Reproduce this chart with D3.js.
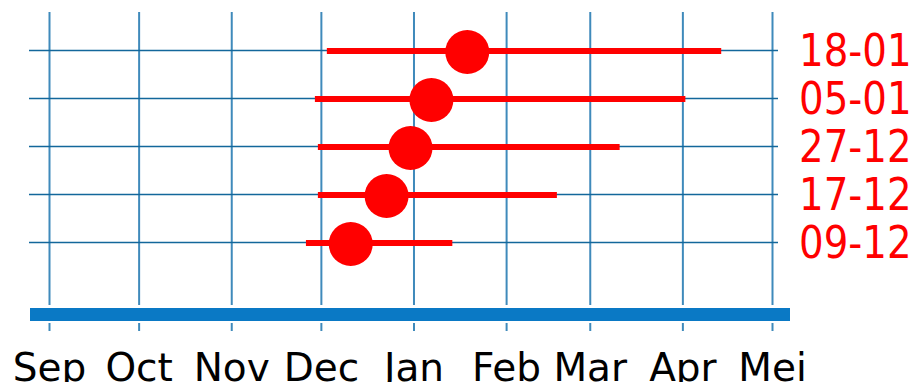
<!DOCTYPE html>
<html>
<head>
<meta charset="utf-8">
<script src="https://d3js.org/d3.v7.min.js"></script>
<style>
  body { margin: 0; background: #fff; }
  svg { display: block; }
  svg text { font-family: "DejaVu Sans", sans-serif; }
</style>
</head>
<body>
<svg id="chart" width="920" height="382"></svg>
<script>
// categories (top to bottom) and their ranges
var categories = ["18-01", "05-01", "27-12", "17-12", "09-12"];
var startDates = ["2021-12-03", "2021-11-29", "2021-11-30", "2021-11-30", "2021-11-26"];
var endDates   = ["2022-04-14", "2022-04-02", "2022-03-11", "2022-02-18", "2022-01-14"];
var midDates   = ["2022-01-19", "2022-01-07", "2021-12-31", "2021-12-23", "2021-12-11"];

// month ticks
var monthTicks = ["2021-09-01", "2021-10-01", "2021-11-01", "2021-12-01", "2022-01-01",
                  "2022-02-01", "2022-03-01", "2022-04-01", "2022-05-01"];
var monthLabels = ["Sep", "Oct", "Nov", "Dec", "Jan", "Feb", "Mar", "Apr", "Mei"];

var parse = d3.timeParse("%Y-%m-%d");
var rows = categories.map(function(c, i) {
  return { cat: c, start: parse(startDates[i]), end: parse(endDates[i]), mid: parse(midDates[i]) };
});
var ticks = monthTicks.map(parse);

var svg = d3.select("#chart");
var gridTop = 12, gridBottom = 305;
var lineLeft = 29, lineRight = 778;

var x = d3.scaleTime().domain([ticks[0], ticks[ticks.length - 1]]).range([49, 772]);
var y = d3.scalePoint().domain(categories).range([50, 242]);

// squeeze DejaVu a bit so it reads like the narrower original face
function condense(sel, k) {
  sel.each(function() {
    var w = this.getComputedTextLength();
    d3.select(this).attr("textLength", w * k).attr("lengthAdjust", "spacingAndGlyphs");
  });
}

// vertical gridlines
svg.append("g")
  .attr("transform", "translate(0," + gridBottom + ")")
  .call(d3.axisBottom(x).tickValues(ticks).tickSize(-(gridBottom - gridTop)).tickFormat(""))
  .call(function(g) {
    g.select(".domain").remove();
    g.selectAll(".tick line").attr("stroke", "#3f8abb").attr("stroke-width", 2);
  });

// horizontal gridlines
svg.append("g")
  .attr("transform", "translate(" + lineLeft + ",0)")
  .call(d3.axisLeft(y).tickSize(-(lineRight - lineLeft)).tickFormat(""))
  .call(function(g) {
    g.select(".domain").remove();
    g.selectAll(".tick line").attr("stroke", "#13679b").attr("stroke-width", 1.5);
  });

// thick baseline
svg.append("rect")
  .attr("x", 30).attr("y", 308)
  .attr("width", 760).attr("height", 13)
  .attr("fill", "#0a79c5");

// month axis below
svg.append("g")
  .attr("transform", "translate(0,323)")
  .call(d3.axisBottom(x).tickValues(ticks).tickSize(8)
    .tickFormat(function(d, i) { return monthLabels[i]; }))
  .call(function(g) {
    g.attr("font-family", null);
    g.select(".domain").remove();
    g.selectAll(".tick line").attr("stroke", "#3f8abb").attr("stroke-width", 2);
    g.selectAll(".tick text")
      .attr("y", 58).attr("dy", 0)
      .attr("fill", "#000")
      .style("font-size", "39px");
  });

// range bars
svg.append("g").selectAll("line")
  .data(rows).enter().append("line")
  .attr("x1", function(d) { return x(d.start); })
  .attr("x2", function(d) { return x(d.end); })
  .attr("y1", function(d) { return y(d.cat) + 1; })
  .attr("y2", function(d) { return y(d.cat) + 1; })
  .attr("stroke", "#ff0000")
  .attr("stroke-width", 6);

// dots
svg.append("g").selectAll("circle")
  .data(rows).enter().append("circle")
  .attr("cx", function(d) { return x(d.mid); })
  .attr("cy", function(d) { return y(d.cat) + 2; })
  .attr("r", 22)
  .attr("fill", "#ff0000");

// category labels on the right
svg.append("g")
  .attr("transform", "translate(" + lineRight + ",0)")
  .call(d3.axisRight(y).tickSize(0).tickPadding(21))
  .call(function(g) {
    g.attr("font-family", null);
    g.select(".domain").remove();
    g.selectAll(".tick text")
      .attr("dy", "0.36em")
      .attr("fill", "#ff0000")
      .style("font-size", "44px")
      .call(condense, 0.88);
  });
</script>
</body>
</html>
